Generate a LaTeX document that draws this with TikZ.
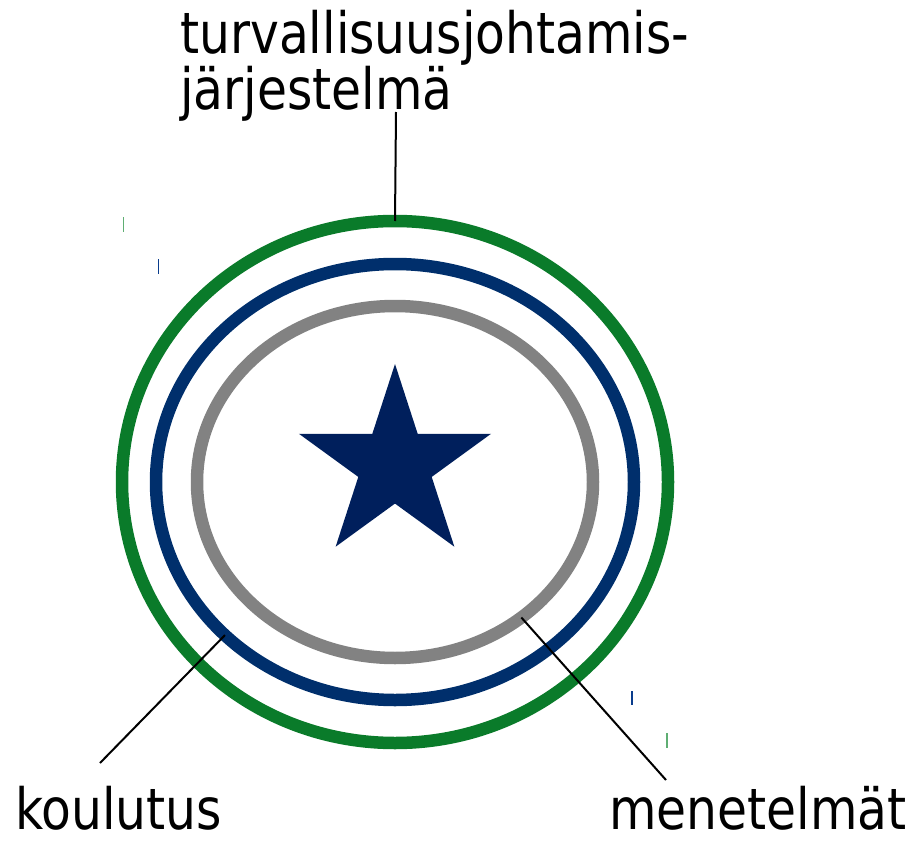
\documentclass[tikz,border=0pt]{standalone}
\usepackage{fontspec}
\setmainfont{DejaVu Sans}[FakeStretch=0.855]
\usetikzlibrary{shapes.geometric}

\definecolor{ringgreen}{HTML}{0A7B2A}
\definecolor{ringblue}{HTML}{002F6C}
\definecolor{ringgray}{HTML}{828282}
\definecolor{starblue}{HTML}{001F5C}
\definecolor{tickgreen}{HTML}{5FAE73}
\definecolor{tickblue}{HTML}{0A3C8C}

\begin{document}
\begin{tikzpicture}[x=1pt, y=-1pt,
  ring/.style={ellipse, draw, line width=12.5pt, inner sep=0pt, outer sep=0pt},
  lead/.style={line width=2pt, black},
  tick/.style={line width=1.6pt},
  lbl/.style={anchor=base west, inner sep=0pt, align=left,
              font=\fontsize{57}{55}\selectfont},
]
\useasboundingbox (0,0) rectangle (908,843);

\node[ring, draw=ringgreen, minimum width=546pt, minimum height=522pt] (green) at (395,482) {};
\node[ring, draw=ringblue, minimum width=478pt, minimum height=436pt] (blue) at (395,482) {};
\node[ring, draw=ringgray, minimum width=396pt, minimum height=352pt] (gray) at (395,482) {};

\node[star, star points=5, star point ratio=2.618, fill=starblue, inner sep=0pt,
      minimum size=202pt] (center) at (395,465) {};

% base anchor sits on the last line
\node[lbl] (tsj) at (180,110) {turvallisuusjohtamis-\\järjestelmä};
\node[lbl, text depth=0pt] (kou) at (15,829) {koulutus};
\node[lbl, text depth=0pt] (men) at (609,829) {menetelmät};

\coordinate (tsjend) at (396,112);
\coordinate (kouend) at (100,763);
\coordinate (menend) at (666,780);

\draw[lead] (tsjend) -- (green.north);
\draw[lead] (kouend) -- (blue.222);
\draw[lead] (menend) -- (gray.313);

% small marks
\draw[tick, tickgreen] (123.5,217) -- (123.5,232);
\draw[tick, tickblue] (158.5,259) -- (158.5,274);
\draw[tick, tickblue] (632,691) -- (632,705);
\draw[tick, tickgreen] (667,733) -- (667,748);

\end{tikzpicture}
\end{document}
